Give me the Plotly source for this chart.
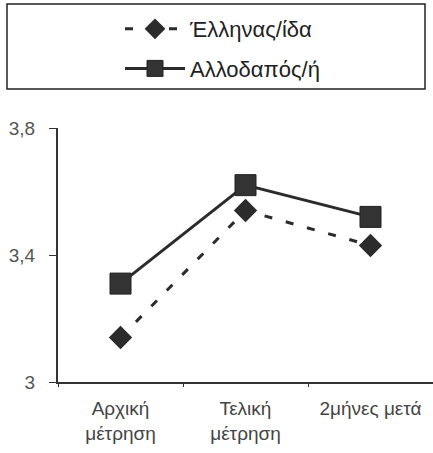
import plotly.graph_objects as go

# categories and values
categories = ['Αρχική<br>μέτρηση', 'Τελική<br>μέτρηση', '2μήνες μετά']
greek = [3.14, 3.54, 3.43]
foreign = [3.31, 3.62, 3.52]
series_names = ['Έλληνας/ίδα', 'Αλλοδαπός/ή']
y_ticks = [3, 3.4, 3.8]
y_tick_labels = ['3', '3,4', '3,8']

W, H = 433, 453
L, R, T, B = 58, 0, 128, 71
pw, ph = W - L - R, H - T - B

def px_x(v):
    return (v - L) / pw

def px_y(v):
    return 1 + (T - v) / ph

fig = go.Figure()

fig.add_trace(go.Scatter(
    x=categories, y=greek, name=series_names[0],
    mode='lines+markers',
    line=dict(color='#2b2b2b', width=3, dash='8px,14px'),
    marker=dict(symbol='diamond', size=18, color='#2b2b2b'),
    legendgroup='a'
))
fig.add_trace(go.Scatter(
    x=categories, y=foreign, name=series_names[1],
    mode='lines+markers',
    line=dict(color='#2b2b2b', width=3),
    marker=dict(symbol='square', size=21, color='#333333',
                line=dict(color='#222222', width=1)),
    legendgroup='b'
))

fig.update_layout(
    width=W, height=H,
    margin=dict(l=L, r=R, t=T, b=B),
    plot_bgcolor='white', paper_bgcolor='white',
    font=dict(family='Liberation Sans, Arial, sans-serif', size=19, color='#444444'),
    separators=',.',
    showlegend=True,
    legend=dict(
        x=px_x(120), y=px_y(8), xanchor='left', yanchor='top',
        traceorder='grouped', tracegroupgap=8,
        font=dict(size=22, color='#222222'),
        bgcolor='rgba(0,0,0,0)', itemwidth=60
    ),
    xaxis=dict(
        range=[-0.5, 2.5], showgrid=False, zeroline=False,
        showline=True, linecolor='#333333', linewidth=2,
        ticks='outside', tickson='boundaries', ticklen=3,
        tickcolor='#333333', ticklabelstandoff=8,
        tickfont=dict(size=19, color='#444444')
    ),
    yaxis=dict(
        range=[3, 3.8], showgrid=False, zeroline=False,
        showline=True, linecolor='#333333', linewidth=2,
        ticks='outside', ticklen=7, tickcolor='#333333',
        tickvals=y_ticks, ticktext=y_tick_labels, ticklabelstandoff=10,
        tickfont=dict(size=19, color='#555555')
    ),
    shapes=[dict(
        type='rect', xref='paper', yref='paper',
        x0=px_x(7), x1=px_x(425), y0=px_y(89), y1=px_y(4),
        line=dict(color='#222222', width=1.5)
    )]
)

# drop the browser's default body margin so the figure fills the window
fig.write_html('out.html', config={'displayModeBar': False},
               post_script="document.body.style.margin='0px';")
